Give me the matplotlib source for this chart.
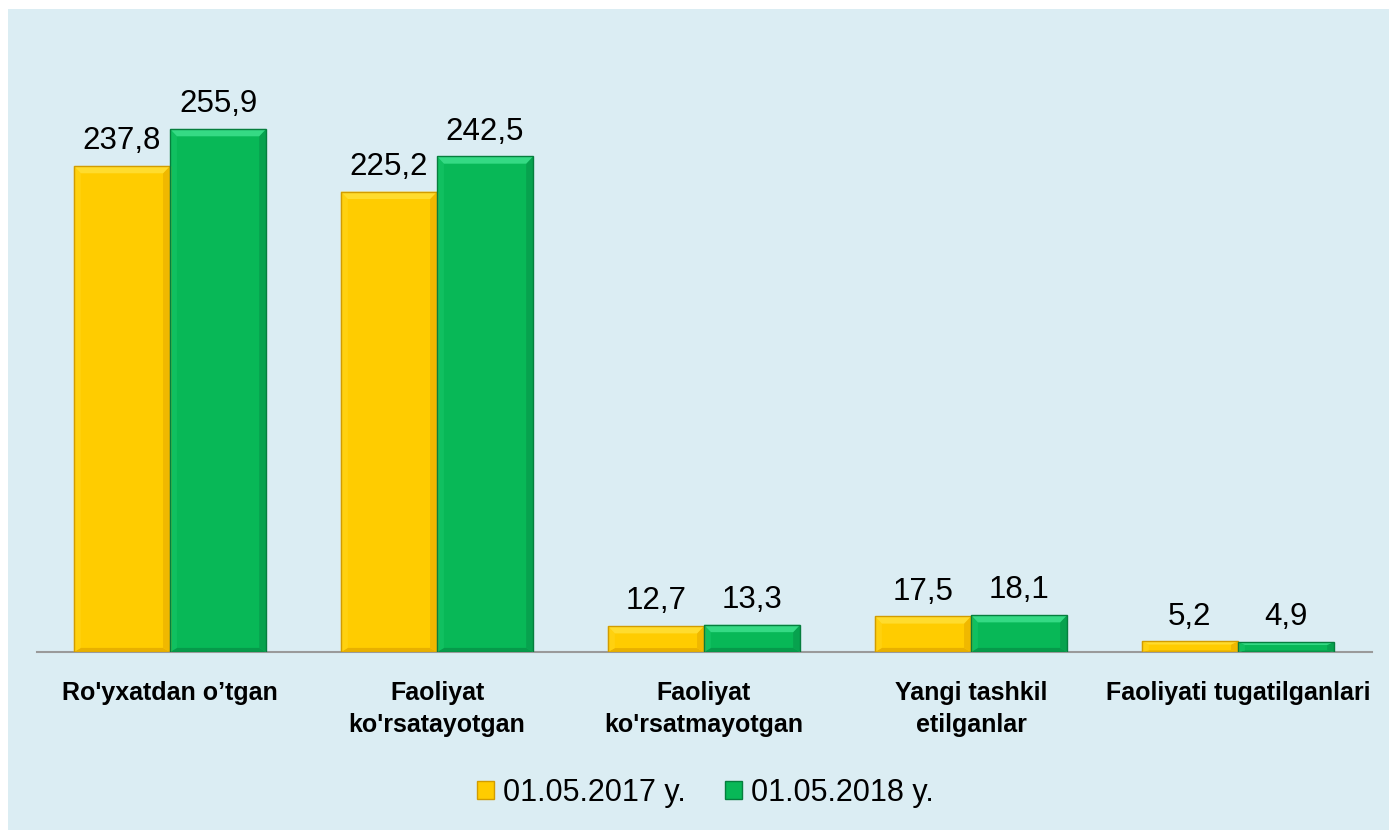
import numpy as np
import matplotlib
matplotlib.use("Agg")
import matplotlib.pyplot as plt
from matplotlib.patches import Polygon, Rectangle

plt.rcParams['font.family'] = ['Liberation Sans', 'DejaVu Sans']

categories = ["Ro'yxatdan o\u2019tgan", "Faoliyat\nko'rsatayotgan", "Faoliyat\nko'rsatmayotgan",
              "Yangi tashkil\netilganlar", "Faoliyati tugatilganlari"]
vals_2017 = [237.8, 225.2, 12.7, 17.5, 5.2]
vals_2018 = [255.9, 242.5, 13.3, 18.1, 4.9]
series_labels = ["01.05.2017 y.", "01.05.2018 y."]

# face, top, left, right, bottom, edge
yellow = ["#FFCC00", "#FFDC2E", "#FFD10F", "#F0B800", "#E8B000", "#D29C00"]
green = ["#08B857", "#35DA84", "#10C060", "#07A24E", "#069A4A", "#067E3E"]

fig = plt.figure(figsize=(13.89, 8.30), dpi=100)
fig.patch.set_facecolor("white")
fig.patches.append(Rectangle((8 / 1389, 0), 1, 1 - 9 / 830, transform=fig.transFigure,
                             facecolor="#DBEDF3", edgecolor="none", zorder=-10))

ax = fig.add_axes([36.5 / 1389, 178 / 830, 1335 / 1389, 300 * 2.044 / 830])
ax.set_facecolor("none")

x = np.arange(len(categories))
w = 0.36


def bevel(rect, cols):
    x0 = rect.get_x()
    bw = rect.get_width()
    h = rect.get_height()
    dx = 0.026
    dy = min(3.6, h * 0.3)
    db = min(2.0, h * 0.15)
    parts = [
        ([(x0, 0), (x0 + bw, 0), (x0 + bw - dx, db), (x0 + dx, db)], cols[4]),
        ([(x0, 0), (x0, h), (x0 + dx, h - dy), (x0 + dx, db)], cols[2]),
        ([(x0 + bw, 0), (x0 + bw, h), (x0 + bw - dx, h - dy), (x0 + bw - dx, db)], cols[3]),
        ([(x0, h), (x0 + bw, h), (x0 + bw - dx, h - dy), (x0 + dx, h - dy)], cols[1]),
    ]
    for pts, c in parts:
        ax.add_patch(Polygon(pts, closed=True, facecolor=c, edgecolor="none", zorder=3))
    ax.add_patch(Rectangle((x0, 0), bw, h, facecolor="none", edgecolor=cols[5], lw=1.0, zorder=4))


b1 = ax.bar(x - w / 2, vals_2017, w, color=yellow[0], label=series_labels[0], zorder=2)
b2 = ax.bar(x + w / 2, vals_2018, w, color=green[0], label=series_labels[1], zorder=2)
for bars, cols in ((b1, yellow), (b2, green)):
    for r in bars:
        bevel(r, cols)
    for r, v in zip(bars, bars.datavalues):
        ax.annotate(f"{v:.1f}".replace(".", ","), (r.get_x() + r.get_width() / 2, v),
                    xytext=(0, 7), textcoords="offset points", ha="center", va="bottom",
                    fontsize=22.5, color="black")

ax.set_xlim(-0.5, len(categories) - 0.5)
ax.set_ylim(0, 300)
ax.set_xticks(x)
ax.set_xticklabels(categories, fontsize=18, fontweight="bold", linespacing=1.4)
ax.tick_params(axis="x", length=0, pad=21)
ax.set_yticks([])
for s in ["left", "right", "top"]:
    ax.spines[s].set_visible(False)
ax.spines["bottom"].set_color("#9A9A9A")
ax.spines["bottom"].set_linewidth(1.5)

h1 = Rectangle((0, 0), 1, 1, facecolor=yellow[0], edgecolor=yellow[5])
h2 = Rectangle((0, 0), 1, 1, facecolor=green[0], edgecolor=green[5])
fig.legend([h1, h2], series_labels, loc="center", bbox_to_anchor=(0.508, 0.045), ncol=2,
           frameon=False, fontsize=22, handlelength=0.55, handleheight=0.55,
           handletextpad=0.3, columnspacing=1.3)

fig.savefig("out.png", dpi=100)
